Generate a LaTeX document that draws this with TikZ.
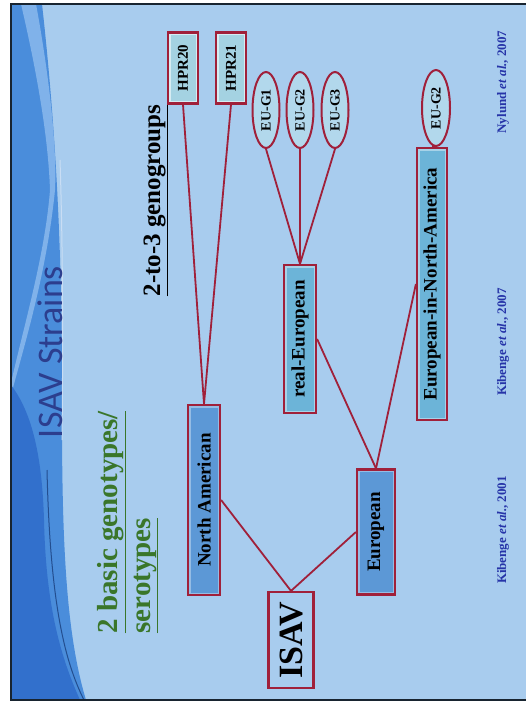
\documentclass[tikz,border=0pt]{standalone}
\usepackage{fontspec}
\setmainfont{Liberation Serif}
\newfontfamily\titlefont{Carlito}
\usetikzlibrary{shapes.geometric}

\definecolor{slidebg}{RGB}{168,204,238}
\definecolor{swmid}{RGB}{74,141,219}
\definecolor{swlight}{RGB}{128,178,234}
\definecolor{swdark}{RGB}{50,112,204}
\definecolor{framedark}{RGB}{24,36,48}
\definecolor{linkred}{RGB}{160,32,58}
\definecolor{titleblue}{RGB}{44,62,142}
\definecolor{citeblue}{RGB}{38,52,168}
\definecolor{labelgreen}{RGB}{58,118,42}
\definecolor{deepfill}{RGB}{92,152,214}
\definecolor{cyanfill}{RGB}{108,180,216}
\definecolor{palefill}{RGB}{164,210,226}
\definecolor{ovalfill}{RGB}{178,216,236}

\newcommand\fsz[1]{\fontsize{#1}{#1}\selectfont}

\tikzset{
  x=1pt, y=-1pt,
  strain/.style={rotate=90, draw=linkred, line width=2.2pt, inner sep=0pt,
    text=black, font=\bfseries\fsz{19}},
  innerband/.style={path picture={\draw[#1, line width=5pt]
    (path picture bounding box.south west) rectangle (path picture bounding box.north east);}},
  deepbox/.style={strain, fill=deepfill, innerband=white!35!deepfill},
  cyanbox/.style={strain, fill=cyanfill, innerband=white!40!cyanfill},
  palebox/.style={strain, fill=palefill, innerband=white!55!palefill, font=\bfseries\fsz{15}},
  oval/.style={strain, ellipse, fill=ovalfill, line width=2pt, font=\bfseries\fsz{14}},
  link/.style={draw=linkred, line width=1.8pt},
  cite/.style={rotate=90, text=citeblue, font=\bfseries\fsz{13}},
  heading/.style={rotate=90, anchor=base west, font=\bfseries\fsz{#1}},
}

\begin{document}
\begin{tikzpicture}
\useasboundingbox (0,0) rectangle (526,704);
\fill[white] (0,0) rectangle (526,704);

% slide background and decorative swoosh on the left edge
\begin{scope}
  \clip (11,4) rectangle (530,700);
  \fill[slidebg] (11,4) rectangle (530,700);
  \fill[swmid] (11,4) -- (42,4) .. controls (55,120) and (63,250) .. (62,420)
    .. controls (62,560) and (68,640) .. (86,700) -- (11,700) -- cycle;
  \fill[swlight] (21,4) -- (36,4) .. controls (50,80) and (57,150) .. (55,190)
    .. controls (47,270) and (26,340) .. (11,395) -- (11,383)
    .. controls (24,325) and (45,255) .. (50,190)
    .. controls (48,130) and (34,60) .. (21,4) -- cycle;
  \fill[swdark] (11,385) .. controls (30,410) and (42,450) .. (44,520)
    .. controls (46,610) and (62,660) .. (80,700) -- (11,700) -- cycle;
  \draw[swdark!70!black, line width=1pt] (47,470) .. controls (50,600) and (64,660) .. (84,700);
  \draw[white!70!swmid, line width=1pt] (60,160) .. controls (63,250) and (63,350) .. (62,440);
\end{scope}
\draw[framedark, line width=2pt] (11,4) rectangle (540,700);

% headings
\node[rotate=90, anchor=base, text=titleblue, font=\titlefont\fsz{36}] (title) at (62,352) {ISAV Strains};
\node[heading=29, text=labelgreen] (basicA) at (117,637) {\underline{2 basic genotypes/}};
\node[heading=29, text=labelgreen] (basicB) at (150,637) {\underline{serotypes}};
\node[heading=25, text=black] (geno) at (160,300) {\underline{2-to-3 genogroups}};

% strain nodes
\node[strain, minimum width=96pt, minimum height=45pt, font=\bfseries\fsz{34}] (isav) at (291,640) {ISAV};
\node[deepbox, minimum width=190pt, minimum height=32pt] (na) at (204,500) {North American};
\node[deepbox, minimum width=125pt, minimum height=38pt] (eu) at (376,532) {European};
\node[cyanbox, minimum width=148pt, minimum height=32pt] (real) at (300,339) {real-European};
\node[cyanbox, minimum width=272pt, minimum height=30pt] (euna) at (432,284) {European-in-North-America};
\node[palebox, minimum width=71pt, minimum height=30pt] (hpra) at (183,68) {HPR\oldstylenums{20}};
\node[palebox, minimum width=71pt, minimum height=30pt] (hprb) at (231,68) {HPR\oldstylenums{21}};
\node[oval, minimum width=76pt, minimum height=27pt] (ga) at (266,110) {EU-G\oldstylenums{1}};
\node[oval, minimum width=76pt, minimum height=27pt] (gb) at (300,110) {EU-G\oldstylenums{2}};
\node[oval, minimum width=76pt, minimum height=27pt] (gc) at (335,110) {EU-G\oldstylenums{3}};
\node[oval, minimum width=76pt, minimum height=28pt] (gd) at (436,108) {EU-G\oldstylenums{2}};

% connectors
\draw[link] (isav.east) -- (na.south);
\draw[link] (isav.east) -- (eu.north);
\draw[link] (na.east) -- (hpra.west);
\draw[link] (na.east) -- (hprb.west);
\draw[link] (eu.east) -- (real.south);
\draw[link] (eu.east) -- (euna.north);
\draw[link] (real.east) -- (ga.west);
\draw[link] (real.east) -- (gb.west);
\draw[link] (real.east) -- (gc.west);
\draw[link] (euna.east) -- (gd.west);

% references
\node[cite] (refA) at (503,530) {Kibenge \textit{et al.}, \oldstylenums{2001}};
\node[cite] (refB) at (503,342) {Kibenge \textit{et al.}, \oldstylenums{2007}};
\node[cite] (refC) at (503,82) {Nylund \textit{et al.}, \oldstylenums{2007}};
\end{tikzpicture}
\end{document}
